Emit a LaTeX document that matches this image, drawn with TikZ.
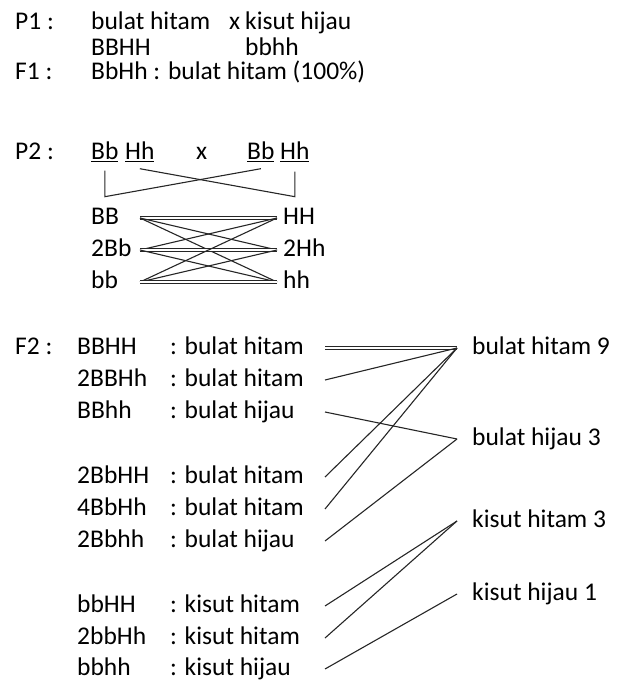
\documentclass[tikz,border=0pt]{standalone}
\usepackage{fontspec}
\setmainfont{Carlito}
\tikzset{
  txt/.style={inner sep=0pt, anchor=west, text height=18pt, text depth=5pt},
  link/.style={draw=black!85, line width=1.1pt},
  twin/.style={link, double, double distance=1.1pt},
}
\begin{document}
\begin{tikzpicture}[x=1pt, y=-1pt, font=\fontsize{25.5}{31}\selectfont]
  \useasboundingbox (0,0) rectangle (620,684);
  % P1 : the two parents
  \node[txt] (p1) at (15,23) {P1 :};
  \node[txt] (p1a) at (91,23) {bulat hitam};
  \node[txt] (p1x) at (229,23) {x};
  \node[txt] (p1b) at (245,23) {kisut hijau};
  \node[txt] (g1a) at (91,49) {BBHH};
  \node[txt] (g1b) at (245,49) {bbhh};
  % F1
  \node[txt] (f1) at (15,73) {F1 :};
  \node[txt] (f1a) at (91,73) {BbHh : bulat hitam (100\%)};
  % P2 : F1 x F1
  \node[txt] (p2) at (15,153) {P2 :};
  \node[txt] (lBb) at (91,153) {\underline{Bb}};
  \node[txt] (lHh) at (125,153) {\underline{Hh}};
  \node[txt] (p2x) at (196,153) {x};
  \node[txt] (rBb) at (247,153) {\underline{Bb}};
  \node[txt] (rHh) at (280,153) {\underline{Hh}};
  % brackets joining the pairs
  \draw[link] ([yshift=-6pt]lBb.south) -- ([yshift=-32pt]lBb.south) -- ([yshift=-4pt]rBb.south);
  \draw[link] ([yshift=-4pt]lHh.south) -- ([yshift=-32pt]rHh.south) -- ([yshift=-7pt]rHh.south);
  % gametes
  \node[txt] (gBB) at (91,218) {BB};
  \node[txt] (gBb) at (91,250) {2Bb};
  \node[txt] (gbb) at (91,282) {bb};
  \node[txt] (gHH) at (283,218) {HH};
  \node[txt] (gHh) at (283,250) {2Hh};
  \node[txt] (ghh) at (283,282) {hh};
  % every B pair meets every H pair
  \coordinate (ltip) at (140,0);
  \coordinate (rtip) at (277,0);
  \draw[twin] (gBB -| ltip) -- (gHH -| rtip);
  \draw[link] (gBB -| ltip) -- (gHh -| rtip);
  \draw[link] (gBB -| ltip) -- (ghh -| rtip);
  \draw[link] (gBb -| ltip) -- (gHH -| rtip);
  \draw[twin] (gBb -| ltip) -- (gHh -| rtip);
  \draw[link] (gBb -| ltip) -- (ghh -| rtip);
  \draw[link] (gbb -| ltip) -- (gHH -| rtip);
  \draw[link] (gbb -| ltip) -- (gHh -| rtip);
  \draw[twin] (gbb -| ltip) -- (ghh -| rtip);
  % F2 : genotypes and phenotypes
  \node[txt] (f2) at (15,348) {F2 :};
  \node[txt] (g1) at (77,348) {BBHH};
  \node[txt] (ph1) at (170,348) {: bulat hitam};
  \node[txt] (g2) at (77,380) {2BBHh};
  \node[txt] (ph2) at (170,380) {: bulat hitam};
  \node[txt] (g3) at (77,412) {BBhh};
  \node[txt] (ph3) at (170,412) {: bulat hijau};
  \node[txt] (g4) at (77,477) {2BbHH};
  \node[txt] (ph4) at (170,477) {: bulat hitam};
  \node[txt] (g5) at (77,509) {4BbHh};
  \node[txt] (ph5) at (170,509) {: bulat hitam};
  \node[txt] (g6) at (77,541) {2Bbhh};
  \node[txt] (ph6) at (170,541) {: bulat hijau};
  \node[txt] (g7) at (77,606) {bbHH};
  \node[txt] (ph7) at (170,606) {: kisut hitam};
  \node[txt] (g8) at (77,638) {2bbHh};
  \node[txt] (ph8) at (170,638) {: kisut hitam};
  \node[txt] (g9) at (77,669) {bbhh};
  \node[txt] (ph9) at (170,669) {: kisut hijau};
  % ratio
  \node[txt] (r1) at (472,348) {bulat hitam 9};
  \node[txt] (r2) at (472,439) {bulat hijau 3};
  \node[txt] (r3) at (472,521) {kisut hitam 3};
  \node[txt] (r4) at (472,594) {kisut hijau 1};
  % phenotype to its class
  \coordinate (from) at (325,0);
  \coordinate (to) at (457,0);
  \draw[twin] (ph1 -| from) -- (r1 -| to);
  \draw[link] (ph2 -| from) -- (r1 -| to);
  \draw[link] (ph3 -| from) -- (r2 -| to);
  \draw[link] (ph4 -| from) -- (r1 -| to);
  \draw[link] (ph5 -| from) -- (r1 -| to);
  \draw[link] (ph6 -| from) -- (r2 -| to);
  \draw[link] (ph7 -| from) -- (r3 -| to);
  \draw[link] (ph8 -| from) -- (r3 -| to);
  \draw[link] (ph9 -| from) -- (r4 -| to);
\end{tikzpicture}
\end{document}
